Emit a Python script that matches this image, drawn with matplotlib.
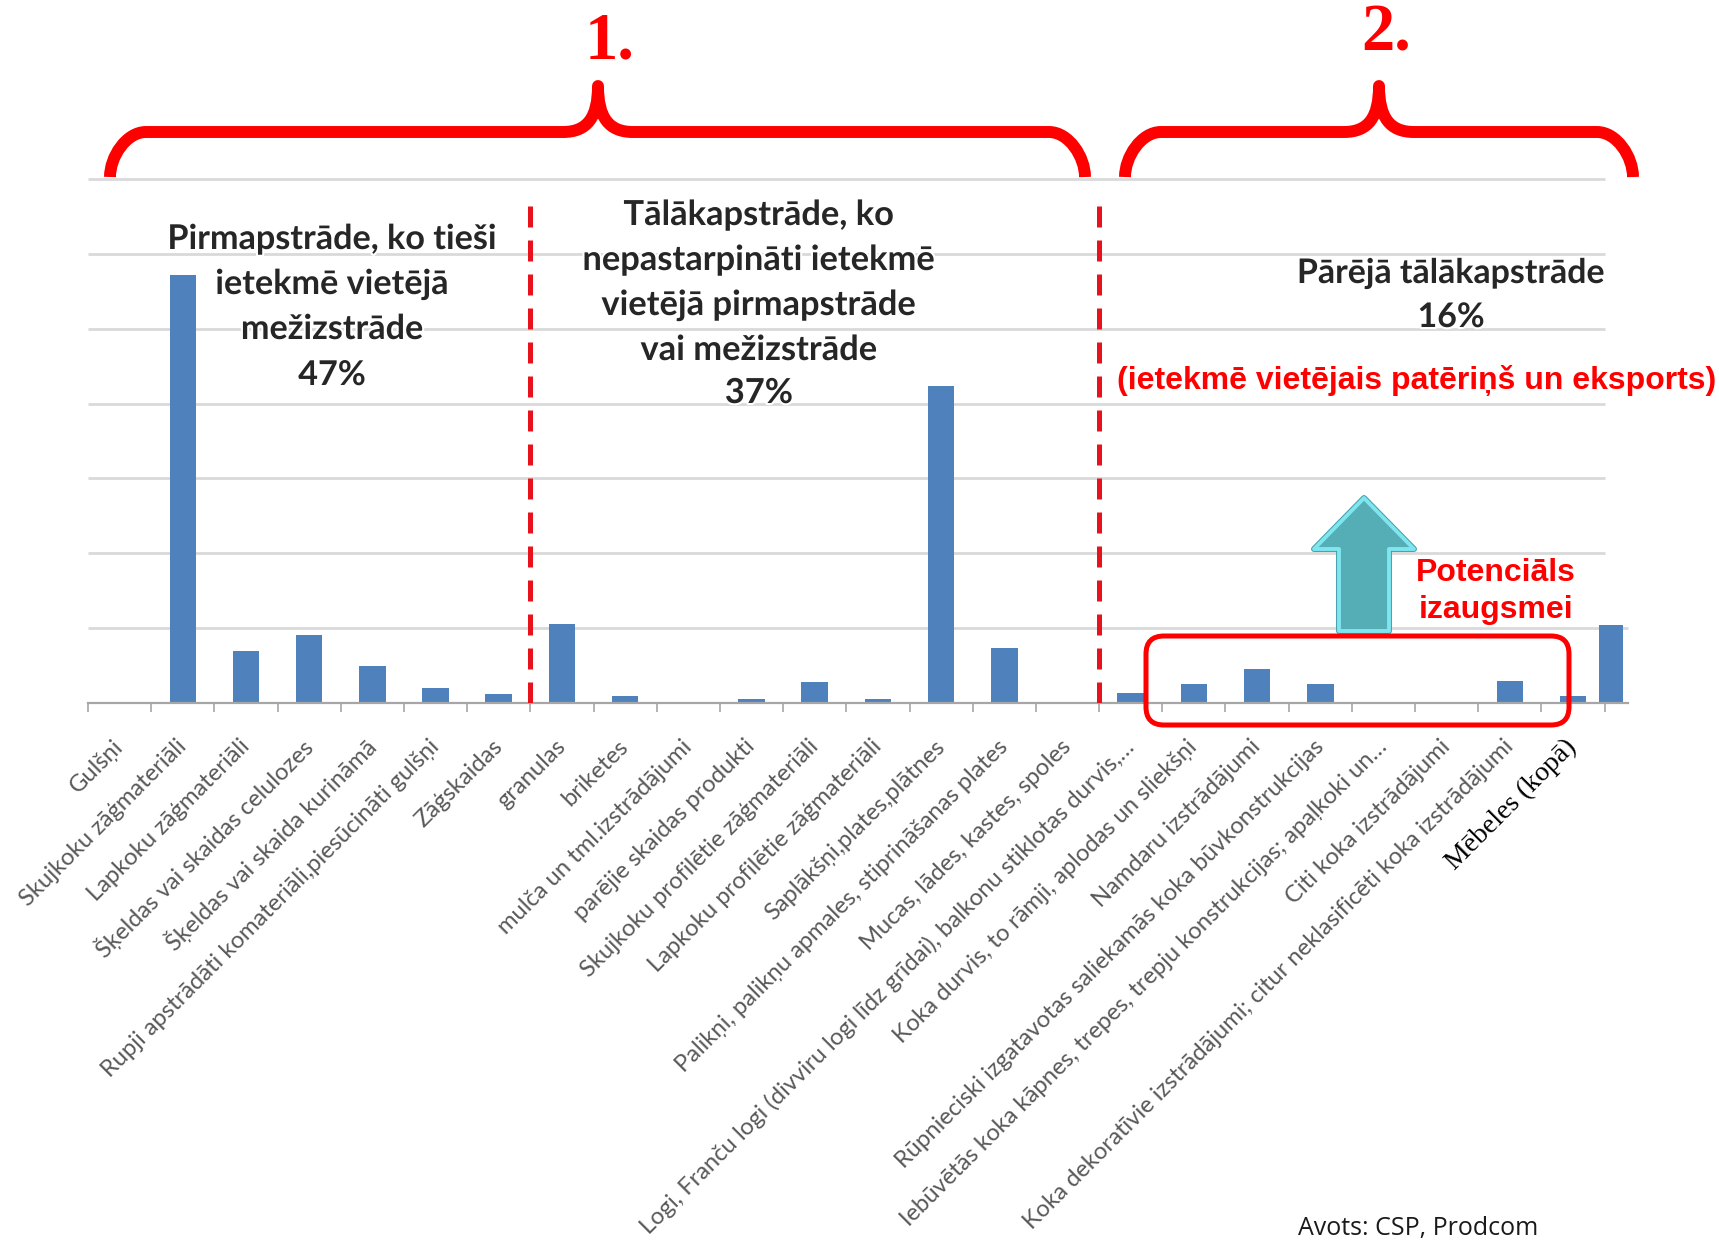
import numpy as np
import matplotlib
matplotlib.use("Agg")
import matplotlib.pyplot as plt
from matplotlib.path import Path
from matplotlib.patches import PathPatch, Polygon, FancyBboxPatch
from matplotlib.transforms import IdentityTransform
import matplotlib.patheffects as pe

# ---------------- data ----------------
categories = [
    "Gulšņi",
    "Skujkoku zāģmateriāli",
    "Lapkoku zāģmateriāli",
    "Šķeldas vai skaidas celulozes",
    "Šķeldas vai skaida kurināmā",
    "Rupji apstrādāti komateriāli,piesūcināti gulšņi",
    "Zāģskaidas",
    "granulas",
    "briketes",
    "mulča un tml.izstrādājumi",
    "parējie skaidas produkti",
    "Skujkoku profilētie zāģmateriāli",
    "Lapkoku profilētie zāģmateriāli",
    "Saplākšņi,plates,plātnes",
    "Palikņi, palikņu apmales, stiprināšanas plates",
    "Mucas, lādes, kastes, spoles",
    "Logi, Franču logi (divviru logi līdz grīdai), balkonu stiklotas durvis,…",
    "Koka durvis, to rāmji, aplodas un sliekšņi",
    "Namdaru izstrādājumi",
    "Rūpnieciski izgatavotas saliekamās koka būvkonstrukcijas",
    "Iebūvētās koka kāpnes, trepes, trepju konstrukcijas; apaļkoki un…",
    "Citi koka izstrādājumi",
    "Koka dekoratīvie izstrādājumi; citur neklasificēti koka izstrādājumi",
    "Mēbeles (kopā)",
]
values = [0.0, 5.72, 0.70, 0.91, 0.50, 0.20, 0.12, 1.05, 0.09, 0.0, 0.06, 0.28,
          0.05, 4.23, 0.73, 0.0, 0.14, 0.26, 0.45, 0.26, 0.0, 0.0, 0.29, 0.10]
furniture_total = [1.04]          # pasted "Mēbeles (kopā)" bar
group_boundaries = [6.5, 15.5]    # red dashed separators (between categories)

group_numbers = ["1.", "2."]
block1 = ["Pirmapstrāde, ko tieši", "ietekmē vietējā", "mežizstrāde", "47%"]
block2 = ["Tālākapstrāde, ko", "nepastarpināti ietekmē", "vietējā pirmapstrāde",
          "vai mežizstrāde", "37%"]
block3 = ["Pārējā tālākapstrāde", "16%"]
red_note = "(ietekmē vietējais patēriņš un eksports)"
potential = ["Potenciāls", "izaugsmei"]
source = "Avots: CSP, Prodcom"

# ---------------- figure ----------------
W, H = 1719, 1241
fig = plt.figure(figsize=(W / 100, H / 100), dpi=100)
fig.patch.set_facecolor("white")

AX_L, AX_R, AX_T, AX_B = 88, 1628, 179, 703
ax = fig.add_axes([AX_L / W, 1 - AX_B / H, (AX_R - AX_L) / W, (AX_B - AX_T) / H])
n = len(categories)
x = np.arange(n)
ax.set_xlim(-0.5, n - 0.5 + 0.37)
ax.set_ylim(0, 7)

grid_c = "#D9D9D9"
ax.hlines(np.arange(1, 8), -0.5, n - 0.5, color=grid_c, lw=2.0, zorder=0, clip_on=False)
ax.hlines([1], n - 0.5, n - 0.13, color=grid_c, lw=2.0, zorder=0, clip_on=False)

bar_c = "#4F81BD"
ax.bar(x, values, width=0.42, color=bar_c, zorder=2)
ax.bar([n - 1 + 0.6], furniture_total, width=0.38, color=bar_c, zorder=2, clip_on=False)

for s in ["top", "left", "right"]:
    ax.spines[s].set_visible(False)
ax.spines["bottom"].set_color("#A6A6A6")
ax.spines["bottom"].set_linewidth(1.6)
ax.set_yticks([])

ax.set_xticks(x)
ax.set_xticklabels(categories, rotation=45, ha="right", va="center",
                   rotation_mode="anchor", fontsize=17.1, color="#595959",
                   family="Lato")
ax.set_xticks(np.arange(-0.5, n, 1.0), minor=True)
ax.tick_params(axis="x", which="major", length=0, pad=29)
ax.tick_params(axis="x", which="minor", length=6.5, width=1.2, color="#A6A6A6",
               direction="out")
last = ax.get_xticklabels()[-1]
last.set_fontfamily("Liberation Serif")
last.set_color("black")
last.set_fontsize(20)

# red dashed separators
ax.vlines([group_boundaries[0]], 0, 6.72, colors="#E8121C", lw=3.6,
          linestyles=[(0, (4.2, 2.6))], zorder=3)
ax.vlines([group_boundaries[1]], 0, 6.78, colors="#E8121C", lw=3.6,
          linestyles=[(0, (4.2, 2.6))], zorder=3)

# ---------------- annotations (pixel layout, top-left origin) ----------------
IT = IdentityTransform()


def D(px, py):
    return (px, H - py)


def brace(xl, xp, xr, yb=177, yh=132, yp=86, rx=36, pk=35):
    ry = yb - yh
    pts = [D(xl, yb), D(xl, yh + 0.55 * ry), D(xl + 0.45 * rx, yh), D(xl + rx, yh),
           D(xp - pk, yh),
           D(xp - 0.3 * pk, yh), D(xp, yh - 15), D(xp, yp),
           D(xp, yh - 15), D(xp + 0.3 * pk, yh), D(xp + pk, yh),
           D(xr - rx, yh),
           D(xr - 0.45 * rx, yh), D(xr, yh + 0.55 * ry), D(xr, yb)]
    codes = [Path.MOVETO, Path.CURVE4, Path.CURVE4, Path.CURVE4,
             Path.LINETO,
             Path.CURVE4, Path.CURVE4, Path.CURVE4,
             Path.CURVE4, Path.CURVE4, Path.CURVE4,
             Path.LINETO,
             Path.CURVE4, Path.CURVE4, Path.CURVE4]
    p = PathPatch(Path(pts, codes), fill=False, ec="#FF0000", lw=8.6,
                  joinstyle="round", capstyle="butt", transform=IT)
    fig.add_artist(p)


brace(110, 598, 1085)
brace(1125, 1379, 1633)

fig.text(*D(610, 42), group_numbers[0], transform=IT, ha="center", va="center",
         fontsize=48, fontweight="bold", color="#FF0000", family="Liberation Serif")
fig.text(*D(1386, 34), group_numbers[1], transform=IT, ha="center", va="center",
         fontsize=48, fontweight="bold", color="#FF0000", family="Liberation Serif")

halo = [pe.withStroke(linewidth=3, foreground="white")]


def block(lines, cx, ys, size):
    for s, yy in zip(lines, ys):
        fig.text(*D(cx, yy), s, transform=IT, ha="center", va="center",
                 fontsize=size, fontweight="bold", color="#262626", family="Lato",
                 path_effects=halo, zorder=5)


block(block1, 332, [239, 284, 329, 375], 24.6)
block(block2, 759, [215, 260, 305, 350, 393], 24.8)
block(block3, 1451, [273, 317], 24.4)

fig.text(*D(1417, 380), red_note, transform=IT, ha="center", va="center",
         fontsize=23, fontweight="bold", color="#FF0000", family="Liberation Sans",
         zorder=5)

# up arrow
arrow_pts = [D(1364, 498), D(1414, 549), D(1389, 549), D(1389, 631),
             D(1339, 631), D(1339, 549), D(1314, 549)]
fig.add_artist(Polygon(arrow_pts, closed=True, fc="#55AEB5", ec="#3C9CA6",
                       lw=4.2, joinstyle="round", transform=IT, zorder=4))
fig.add_artist(Polygon(arrow_pts, closed=True, fc="#55AEB5", ec="#7FE6F0",
                       lw=2.8, joinstyle="round", transform=IT, zorder=4))

for s, yy in zip(potential, [573, 610]):
    fig.text(*D(1496, yy), s, transform=IT, ha="center", va="center",
             fontsize=23, fontweight="bold", color="#FF0000",
             family="Liberation Sans", zorder=5)

# rounded red frame
fig.add_artist(FancyBboxPatch(D(1146, 725), 1569 - 1146, 725 - 636,
                              boxstyle="round,pad=0,rounding_size=18",
                              fill=False, ec="#FF0000", lw=3.6, transform=IT,
                              zorder=6))

fig.text(*D(1418, 1228), source, transform=IT, ha="center", va="center",
         fontsize=18, color="#1A1A1A", family="Open Sans")

fig.savefig("out.png", dpi=100, facecolor="white")
